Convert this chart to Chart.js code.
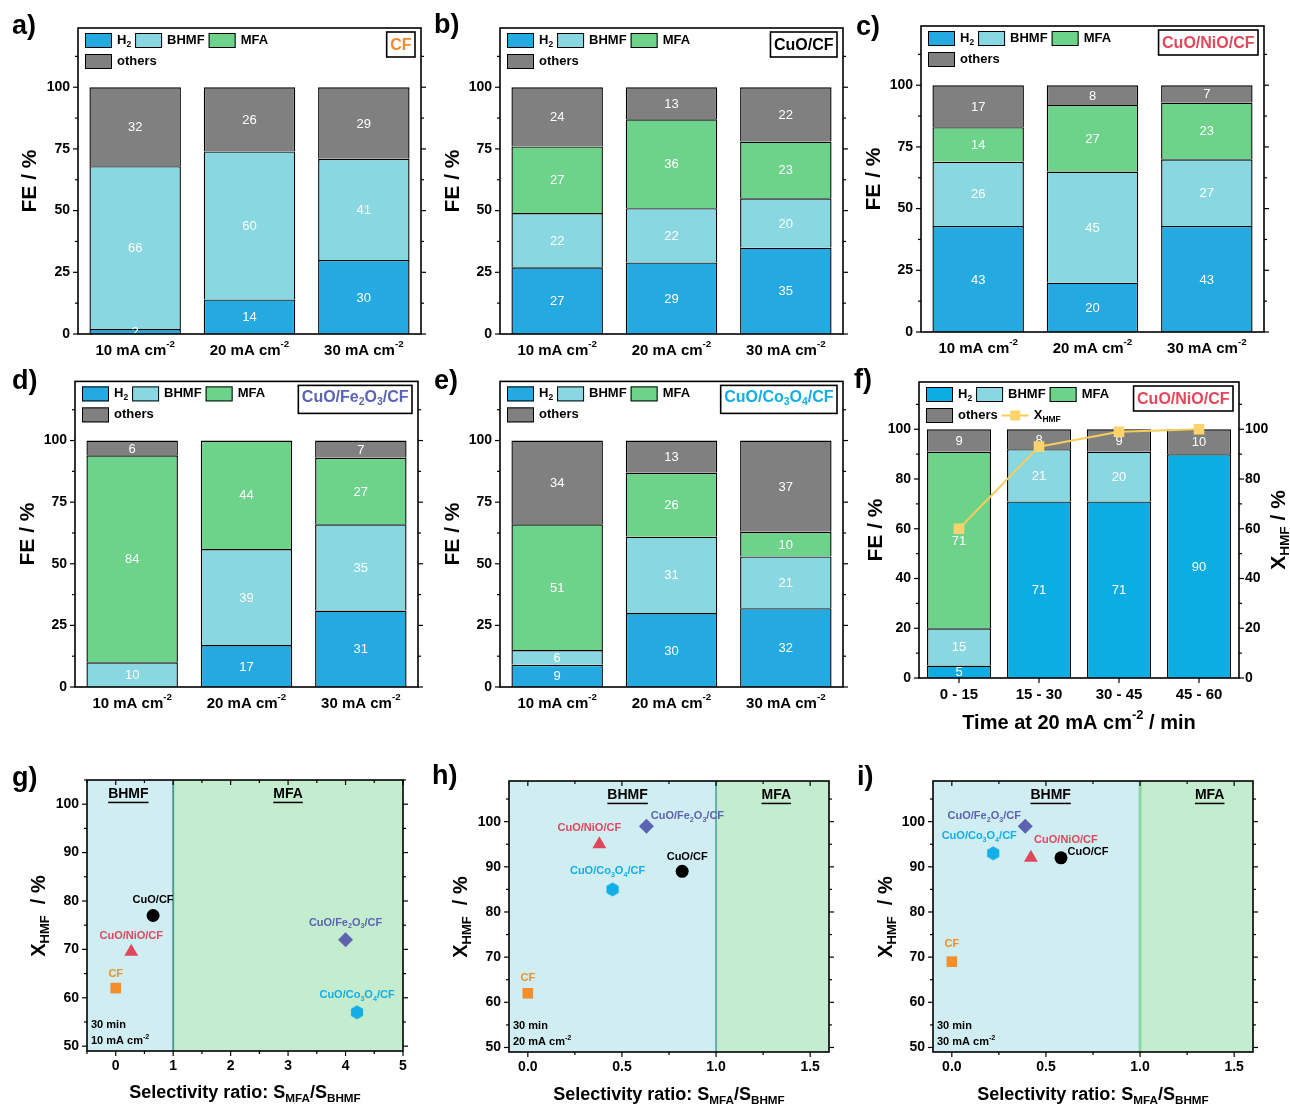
<!DOCTYPE html>
<html>
<head>
<meta charset="utf-8">
<script src="https://cdn.jsdelivr.net/npm/chart.js@4.4.1/dist/chart.umd.min.js"></script>
<style>
  html, body { margin: 0; padding: 0; background: #fff; }
  #fig { position: relative; width: 1290px; height: 1109px; overflow: hidden; }
  #fig canvas { position: absolute; }
</style>
</head>
<body>
<div id="fig"></div>
<script>
// ---- data ----
const currents = ['10 mA cm^{-2}', '20 mA cm^{-2}', '30 mA cm^{-2}'];
const products = ['H_{2}', 'BHMF', 'MFA', 'others'];
const feTicks = [0, 25, 50, 75, 100];

// FE / % per product for each electrode
const cfH2 = [2, 14, 30], cfBHMF = [66, 60, 41], cfMFA = [0, 0, 0], cfOthers = [32, 26, 29];
const cuoH2 = [27, 29, 35], cuoBHMF = [22, 22, 20], cuoMFA = [27, 36, 23], cuoOthers = [24, 13, 22];
const nioH2 = [43, 20, 43], nioBHMF = [26, 45, 27], nioMFA = [14, 27, 23], nioOthers = [17, 8, 7];
const feH2 = [0, 17, 31], feBHMF = [10, 39, 35], feMFA = [84, 44, 27], feOthers = [6, 0, 7];
const coH2 = [9, 30, 32], coBHMF = [6, 31, 21], coMFA = [51, 26, 10], coOthers = [34, 13, 37];

// CuO/NiO/CF over time at 20 mA cm-2
const timeBins = ['0 - 15', '15 - 30', '30 - 45', '45 - 60'];
const timeTicks = [0, 20, 40, 60, 80, 100];
const timeH2 = [5, 71, 71, 90], timeBHMF = [15, 21, 20, 0], timeMFA = [71, 0, 0, 0], timeOthers = [9, 8, 9, 10];
const timeXHMF = [60, 93, 99, 100];

// conversion vs selectivity ratio
const catalysts = ['CF', 'CuO/CF', 'CuO/NiO/CF', 'CuO/Fe_{2}O_{3}/CF', 'CuO/Co_{3}O_{4}/CF'];
const ratio10 = [0, 0.65, 0.27, 4.0, 4.2], conv10 = [62, 77, 69.5, 72, 57];
const ratio20 = [0, 0.82, 0.38, 0.63, 0.45], conv20 = [62, 89, 95, 99, 85];
const ratio30 = [0, 0.58, 0.42, 0.39, 0.22], conv30 = [69, 92, 92, 99, 93];
const ratioTicksWide = [0, 1, 2, 3, 4, 5];
const ratioTicksNarrow = [0, 0.5, 1.0, 1.5];
const convTicks = [50, 60, 70, 80, 90, 100];

// ---- styling ----
const FONT = "'Liberation Sans', Arial, Helvetica, sans-serif";
Chart.defaults.font.family = FONT;
Chart.defaults.color = '#000';
const barColors = ['#24a9e1', '#89d7e0', '#6dd28a', '#808080'];
const barColorsTime = ['#0badE3', '#89d7e0', '#6dd28a', '#808080'];

function hexagon(r, color) {
  const c = document.createElement('canvas');
  c.width = Math.ceil(2 * r * Math.cos(Math.PI / 6)) + 1; c.height = 2 * r + 1;
  const g = c.getContext('2d');
  g.fillStyle = color; g.beginPath();
  for (let k = 0; k < 6; k++) {
    const t = Math.PI / 2 + k * Math.PI / 3;
    g.lineTo(c.width / 2 + r * Math.cos(t), c.height / 2 + r * Math.sin(t));
  }
  g.closePath(); g.fill();
  return c;
}
const markers = [
  { color: '#f28e2b', style: 'rect', r: 7.5 },
  { color: '#000000', style: 'circle', r: 6.5 },
  { color: '#e0475d', style: 'triangle', r: 8 },
  { color: '#5c64b2', style: 'rectRot', r: 7.5 },
  { color: '#12aee8', style: hexagon(7, '#12aee8'), r: 7 }
];

// ---- rich text (sub/superscripts) ----
function richParts(s) {
  const out = [], re = /([_^])\{([^}]*)\}|([^_^]+)/g;
  let m;
  while ((m = re.exec(s))) out.push(m[1] ? [m[2], m[1] === '_' ? -1 : 1] : [m[3], 0]);
  return out;
}
function richFont(p, o) {
  return `${o.weight || 'bold'} ${p[1] ? o.size * 0.65 : o.size}px ${FONT}`;
}
function richWidth(ctx, s, o) {
  let w = 0;
  richParts(s).forEach(p => { ctx.font = richFont(p, o); w += ctx.measureText(p[0]).width; });
  return w;
}
function drawRich(ctx, s, x, y, o) {
  const w = richWidth(ctx, s, o);
  let cx = o.align === 'left' ? x : o.align === 'right' ? x - w : x - w / 2;
  const x0 = cx;
  ctx.save();
  ctx.fillStyle = o.color || '#000'; ctx.textAlign = 'left'; ctx.textBaseline = 'middle';
  richParts(s).forEach(p => {
    ctx.font = richFont(p, o);
    const dy = p[1] === -1 ? o.size * 0.32 : p[1] === 1 ? -o.size * 0.38 : 0;
    ctx.fillText(p[0], cx, y + dy);
    cx += ctx.measureText(p[0]).width;
  });
  if (o.underline) ctx.fillRect(x0, y + o.size * 0.55, w, 1.5);
  ctx.restore();
  return w;
}

function line(ctx, x1, y1, x2, y2) {
  ctx.beginPath(); ctx.moveTo(x1, y1); ctx.lineTo(x2, y2); ctx.stroke();
}

function axisTicks(ctx, chart, id, side, major, minor) {
  const s = chart.scales[id], a = chart.chartArea;
  const inward = side === 'right' || side === 'top';
  for (let k = Math.ceil(s.min / minor - 1e-9); k * minor <= s.max + 1e-9; k++) {
    const v = k * minor;
    const isMajor = Math.abs(v / major - Math.round(v / major)) < 1e-6;
    const len = (isMajor ? 5 : 3) * (inward ? -1 : 1);
    const p = s.getPixelForValue(v);
    if (side === 'left') line(ctx, a.left, p, a.left - len, p);
    if (side === 'right') line(ctx, a.right, p, a.right - len, p);
    if (side === 'bottom') line(ctx, p, a.bottom, p, a.bottom + len);
    if (side === 'top') line(ctx, p, a.top, p, a.top - len);
  }
}

function decorPlugin(L) {
  const ox = L.box[0], oy = L.box[1];
  return {
    id: 'decor',
    beforeDatasetsDraw(chart) {
      if (L.split === undefined) return;
      const ctx = chart.ctx, a = chart.chartArea;
      const px = chart.scales.x.getPixelForValue(L.split);
      ctx.save();
      ctx.fillStyle = '#d0eef2'; ctx.fillRect(a.left, a.top, px - a.left, a.bottom - a.top);
      ctx.fillStyle = '#c4edd0'; ctx.fillRect(px, a.top, a.right - px, a.bottom - a.top);
      ctx.strokeStyle = L.splitColor; ctx.lineWidth = L.splitWidth;
      line(ctx, px, a.top, px, a.bottom);
      ctx.restore();
    },
    afterDatasetDraw(chart, args) {
      if (args.meta.type !== 'bar') return;
      const ctx = chart.ctx, ds = chart.data.datasets[args.index];
      ctx.save();
      ctx.font = `13px ${FONT}`; ctx.fillStyle = '#fff';
      ctx.textAlign = 'center'; ctx.textBaseline = 'middle';
      args.meta.data.forEach((el, j) => {
        const v = ds.data[j];
        if (v) ctx.fillText(String(v), el.x, (el.y + el.base) / 2 + 1);
      });
      ctx.restore();
    },
    afterDatasetsDraw(chart) {
      if (!L.pointLabels) return;
      const ctx = chart.ctx;
      chart.data.datasets.forEach((d, i) => {
        const el = chart.getDatasetMeta(i).data[0];
        const off = L.pointLabels[i];
        drawRich(ctx, d.label, el.x + off[0], el.y + off[1], { size: 11, color: markers[i].color });
      });
    },
    afterDraw(chart) {
      const ctx = chart.ctx, a = chart.chartArea;
      ctx.save();
      ctx.strokeStyle = '#000'; ctx.lineWidth = 1.2;
      if (L.kind === 'bar') {
        axisTicks(ctx, chart, 'y', 'left', L.major, L.minor);
        axisTicks(ctx, chart, L.right ? 'y2' : 'y', 'right', L.major, L.minor);
        const xs = chart.scales.x;
        chart.data.labels.forEach((lab, j) => {
          const px = xs.getPixelForValue(j);
          if (L.right) line(ctx, px, a.bottom, px, a.bottom + 5);
          drawRich(ctx, lab, px, a.bottom + 16.5, { size: 15 });
        });
      } else {
        axisTicks(ctx, chart, 'y', 'left', 10, 5);
        axisTicks(ctx, chart, 'y', 'right', 10, 5);
        axisTicks(ctx, chart, 'x', 'bottom', L.xMajor, L.xMinor);
        axisTicks(ctx, chart, 'x', 'top', L.xMajor, L.xMinor);
      }
      ctx.lineWidth = 1.6;
      ctx.strokeRect(a.left, a.top, a.right - a.left, a.bottom - a.top);

      // legend
      if (L.kind === 'bar') {
        const ds = chart.data.datasets;
        [ds.slice(0, 3), ds.slice(3)].forEach((row, r) => {
          let x = a.left + 7;
          const y = a.top + 5 + r * 21, cy = y + 7.5;
          row.forEach(d => {
            if (d.type === 'line') {
              ctx.strokeStyle = d.borderColor; ctx.lineWidth = 2;
              line(ctx, x, cy, x + 27, cy);
              ctx.fillStyle = d.pointBackgroundColor; ctx.fillRect(x + 8.5, cy - 5, 10, 10);
            } else {
              ctx.fillStyle = d.backgroundColor; ctx.fillRect(x, y, 27, 15);
              ctx.strokeStyle = '#000'; ctx.lineWidth = 1; ctx.strokeRect(x + 0.5, y + 0.5, 26, 14);
            }
            x += 32;
            x += drawRich(ctx, d.label, x, cy, { size: 13, align: 'left' }) + 4;
          });
        });
        // sample name box
        const o = { size: 16, color: L.name[1] };
        const sub = L.name[0].includes('_');
        const w = richWidth(ctx, L.name[0], o) + 7, h = sub ? 28 : 25;
        const bx = a.right - 6 - w, by = a.top + 4;
        ctx.fillStyle = '#fff'; ctx.fillRect(bx, by, w, h);
        ctx.strokeStyle = '#000'; ctx.lineWidth = 1.6; ctx.strokeRect(bx, by, w, h);
        drawRich(ctx, L.name[0], bx + w / 2, by + h / 2 + (sub ? -2 : 1), o);
      } else {
        const xs = chart.scales.x;
        L.regions.forEach(rg => {
          drawRich(ctx, rg[0], xs.getPixelForValue(rg[1]), a.top + 14, { size: 14, underline: true });
        });
        drawRich(ctx, '30 min', a.left + 4, a.bottom - 26, { size: 11, align: 'left' });
        drawRich(ctx, L.note, a.left + 4, a.bottom - 10, { size: 11, align: 'left' });
      }

      // axis titles and panel letter
      L.titles.forEach(t => {
        ctx.save();
        ctx.translate(t[1] - ox, t[2] - oy);
        if (t[3]) ctx.rotate(-Math.PI / 2);
        drawRich(ctx, t[0], 0, 0, { size: t[4] });
        ctx.restore();
      });
      drawRich(ctx, L.letter[0], L.letter[1] - ox, L.letter[2] - oy, { size: 27, align: 'left' });
      ctx.restore();
    }
  };
}

const fig = document.getElementById('fig');
function makeCanvas(box) {
  const c = document.createElement('canvas');
  c.width = box[2]; c.height = box[3];
  c.style.left = box[0] + 'px'; c.style.top = box[1] + 'px';
  c.style.width = box[2] + 'px'; c.style.height = box[3] + 'px';
  fig.appendChild(c);
  return c;
}
function padding(L, W, W2, H) {
  const [bx, by, bw, bh] = L.box, [fl, ft, fr, fb] = L.frame;
  return { left: fl - bx - W, right: bx + bw - fr - W2, top: ft - by, bottom: by + bh - fb - H };
}
const tickFont = { size: 14, weight: 'bold' };
const noGrid = { display: false, drawTicks: false };

function barChart(L, cats, series, ticks, extra) {
  L.kind = 'bar';
  const datasets = series.map((vals, k) => ({
    type: 'bar', label: products[k], data: vals.map(v => v || null),
    backgroundColor: L.colors[k], borderColor: '#000', borderWidth: 1.4, borderSkipped: 'start',
    stack: 'fe', yAxisID: 'y', order: 1, barPercentage: 0.8, categoryPercentage: 1
  }));
  if (extra) datasets.push(extra);
  const yAxis = (pos, pad) => ({
    position: pos, stacked: pos === 'left', min: 0, max: L.ymax,
    afterBuildTicks: s => { s.ticks = ticks.map(v => ({ value: v })); },
    ticks: { font: tickFont, color: '#000', padding: pad },
    grid: noGrid, border: { display: false },
    afterFit: s => { s.width = 40; }
  });
  const scales = {
    x: { type: 'category', stacked: true, offset: true, grid: noGrid, border: { display: false },
         ticks: { display: false }, afterFit: s => { s.height = 10; } },
    y: yAxis('left', 8)
  };
  if (L.right) scales.y2 = yAxis('right', 6);
  new Chart(makeCanvas(L.box), {
    type: 'bar',
    data: { labels: cats, datasets },
    options: {
      responsive: false, animation: false,
      layout: { padding: padding(L, 40, L.right ? 40 : 0, 10) },
      plugins: { legend: { display: false }, tooltip: { enabled: false } },
      scales
    },
    plugins: [decorPlugin(L)]
  });
}

function scatterChart(L, ratios, convs, xTicks) {
  L.kind = 'scatter';
  const datasets = catalysts.map((name, i) => ({
    label: name, data: [{ x: ratios[i], y: convs[i] }],
    pointStyle: markers[i].style, pointRadius: markers[i].r, pointHoverRadius: markers[i].r,
    backgroundColor: markers[i].color, borderColor: markers[i].color, borderWidth: 0
  }));
  new Chart(makeCanvas(L.box), {
    type: 'scatter',
    data: { datasets },
    options: {
      responsive: false, animation: false,
      layout: { padding: padding(L, 40, 0, 30) },
      plugins: { legend: { display: false }, tooltip: { enabled: false } },
      scales: {
        x: { type: 'linear', min: L.xmin, max: L.xmax,
             afterBuildTicks: s => { s.ticks = xTicks.map(v => ({ value: v })); },
             ticks: { font: tickFont, color: '#000', padding: 7, callback: v => v.toFixed(L.digits) },
             grid: noGrid, border: { display: false }, afterFit: s => { s.height = 30; } },
        y: { type: 'linear', min: 49, max: L.ymax,
             afterBuildTicks: s => { s.ticks = convTicks.map(v => ({ value: v })); },
             ticks: { font: tickFont, color: '#000', padding: 8 },
             grid: noGrid, border: { display: false }, afterFit: s => { s.width = 40; } }
      }
    },
    plugins: [decorPlugin(L)]
  });
}

const FE = 'FE / %';
const XT = 'X_{HMF}  / %';
const ST = 'Selectivity ratio: S_{MFA}/S_{BHMF}';

barChart({ box: [0, 0, 430, 370], frame: [78, 28, 421, 334], ymax: 124, major: 25, minor: 12.5, colors: barColors,
  letter: ['a)', 12, 27], name: ['CF', '#f28a30'], titles: [[FE, 30, 181, true, 21]] },
  currents, [cfH2, cfBHMF, cfMFA, cfOthers], feTicks);
barChart({ box: [430, 0, 420, 370], frame: [500, 28, 843, 334], ymax: 124, major: 25, minor: 12.5, colors: barColors,
  letter: ['b)', 434, 26], name: ['CuO/CF', '#000'], titles: [[FE, 453, 181, true, 21]] },
  currents, [cuoH2, cuoBHMF, cuoMFA, cuoOthers], feTicks);
barChart({ box: [850, 0, 440, 370], frame: [921, 26, 1264, 332], ymax: 124, major: 25, minor: 12.5, colors: barColors,
  letter: ['c)', 856, 28], name: ['CuO/NiO/CF', '#e2475b'], titles: [[FE, 874, 179, true, 21]] },
  currents, [nioH2, nioBHMF, nioMFA, nioOthers], feTicks);
barChart({ box: [0, 365, 430, 375], frame: [75, 381, 418, 687], ymax: 124, major: 25, minor: 12.5, colors: barColors,
  letter: ['d)', 12, 382], name: ['CuO/Fe_{2}O_{3}/CF', '#5b63b5'], titles: [[FE, 28, 534, true, 21]] },
  currents, [feH2, feBHMF, feMFA, feOthers], feTicks);
barChart({ box: [430, 365, 420, 375], frame: [500, 381, 843, 687], ymax: 124, major: 25, minor: 12.5, colors: barColors,
  letter: ['e)', 434, 382], name: ['CuO/Co_{3}O_{4}/CF', '#12aee6'], titles: [[FE, 453, 534, true, 21]] },
  currents, [coH2, coBHMF, coMFA, coOthers], feTicks);
barChart({ box: [850, 365, 440, 375], frame: [919, 382, 1239, 678], ymax: 119, major: 20, minor: 10, colors: barColorsTime,
  right: true, letter: ['f)', 854, 381], name: ['CuO/NiO/CF', '#e2475b'],
  titles: [[FE, 876, 530, true, 21], [XT.replace('  ', ' '), 1279, 530, true, 21],
           ['Time at 20 mA cm^{-2} / min', 1079, 723, false, 20]] },
  timeBins, [timeH2, timeBHMF, timeMFA, timeOthers], timeTicks,
  { type: 'line', label: 'X_{HMF}', data: timeXHMF, yAxisID: 'y2', order: 0,
    borderColor: '#f8cc5c', borderWidth: 2, pointStyle: 'rect', pointRadius: 7.5,
    pointBackgroundColor: '#fdd46c', pointBorderWidth: 0 });

scatterChart({ box: [0, 745, 430, 364], frame: [87, 780, 403, 1051], xmin: -0.5, xmax: 5, ymax: 105, digits: 0,
  xMajor: 1, xMinor: 0.5, split: 1, splitColor: '#4f9e94', splitWidth: 2,
  regions: [['BHMF', 0.22], ['MFA', 3.0]], note: '10 mA cm^{-2}',
  pointLabels: [[0, -14], [0, -16], [0, -16], [0, -17], [0, -17]],
  letter: ['g)', 12, 779], titles: [[XT, 39, 916, true, 20], [ST, 245, 1093, false, 18]] },
  ratio10, conv10, ratioTicksWide);
scatterChart({ box: [430, 745, 420, 364], frame: [509, 781, 829, 1052], xmin: -0.1, xmax: 1.6, ymax: 109, digits: 1,
  xMajor: 0.5, xMinor: 0.25, split: 1, splitColor: '#62aeb0', splitWidth: 2,
  regions: [['BHMF', 0.53], ['MFA', 1.32]], note: '20 mA cm^{-2}',
  pointLabels: [[0, -15], [5, -14], [-10, -16], [41, -10], [-5, -18]],
  letter: ['h)', 432, 777], titles: [[XT, 461, 917, true, 20], [ST, 669, 1095, false, 18]] },
  ratio20, conv20, ratioTicksNarrow);
scatterChart({ box: [850, 745, 440, 364], frame: [933, 781, 1253, 1052], xmin: -0.1, xmax: 1.6, ymax: 109, digits: 1,
  xMajor: 0.5, xMinor: 0.25, split: 1, splitColor: '#8dd4a8', splitWidth: 3,
  regions: [['BHMF', 0.525], ['MFA', 1.37]], note: '30 mA cm^{-2}',
  pointLabels: [[0, -18], [27, -6], [35, -18], [-41, -10], [-14, -17]],
  letter: ['i)', 857, 778], titles: [[XT, 886, 917, true, 20], [ST, 1093, 1095, false, 18]] },
  ratio30, conv30, ratioTicksNarrow);
</script>
</body>
</html>
